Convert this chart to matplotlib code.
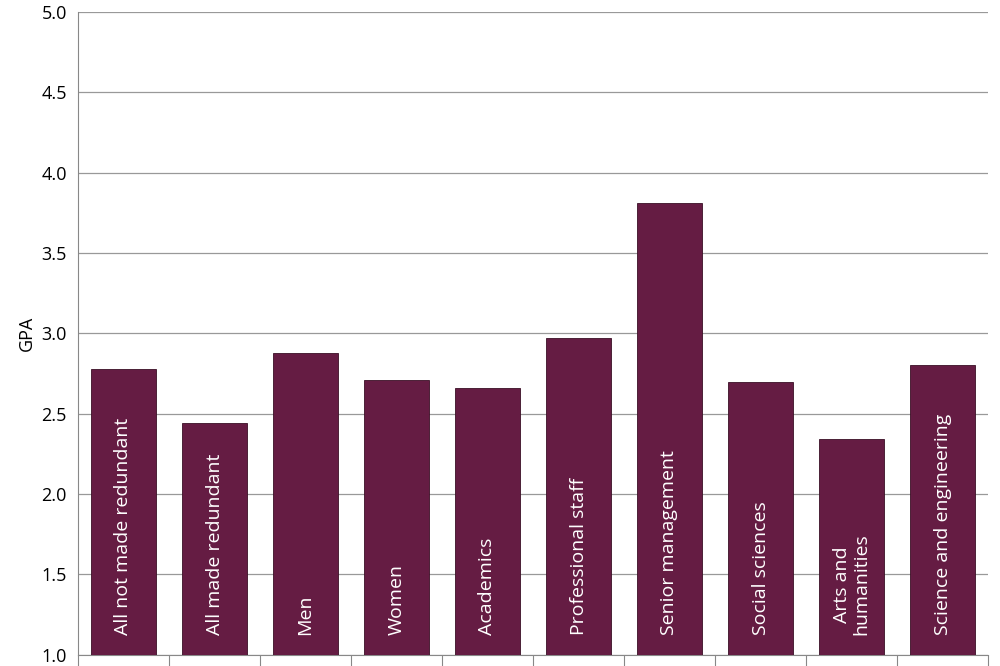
import matplotlib
matplotlib.use("Agg")
import matplotlib.pyplot as plt
import numpy as np

plt.rcParams['font.family'] = ['Open Sans', 'DejaVu Sans']

categories = ["All not made redundant", "All made redundant", "Men", "Women", "Academics",
              "Professional staff", "Senior management", "Social sciences",
              "Arts and\nhumanities", "Science and engineering"]
values = [2.78, 2.44, 2.88, 2.71, 2.66, 2.97, 3.81, 2.70, 2.34, 2.80]

fig = plt.figure(figsize=(10, 6.66), dpi=100)
ax = fig.add_axes([0.078, 0.017, 0.91, 0.965])
x = np.arange(len(categories))
ax.bar(x, [v - 1.0 for v in values], bottom=1.0, width=0.71, color="#651c43",
       edgecolor="#3a0f26", linewidth=0.6, zorder=3)
for xi, c in zip(x, categories):
    ax.text(xi, 1.12, c, rotation=90, color="white", fontsize=14, ha="center",
            va="bottom", zorder=4, linespacing=1.1)
ax.set_xlim(-0.5, len(categories) - 0.5)
ax.set_ylim(1.0, 5.0)
ax.set_yticks(np.arange(1.0, 5.01, 0.5))
ax.set_yticklabels([f"{t:.1f}" for t in np.arange(1.0, 5.01, 0.5)], fontsize=13)
ax.set_xticks(np.arange(-0.5, len(categories), 1.0))
ax.set_xticklabels([])
ax.tick_params(axis='x', length=8, color="#888888", direction="out")
ax.tick_params(axis='y', length=0, pad=8)
ax.yaxis.grid(True, color="#999999", linewidth=0.9, zorder=0)
for s in ["top", "right"]:
    ax.spines[s].set_visible(False)
ax.spines["left"].set_color("#888888")
ax.spines["bottom"].set_color("#888888")
ax.set_ylabel("GPA", fontsize=13)
fig.savefig("out.png", dpi=100)
